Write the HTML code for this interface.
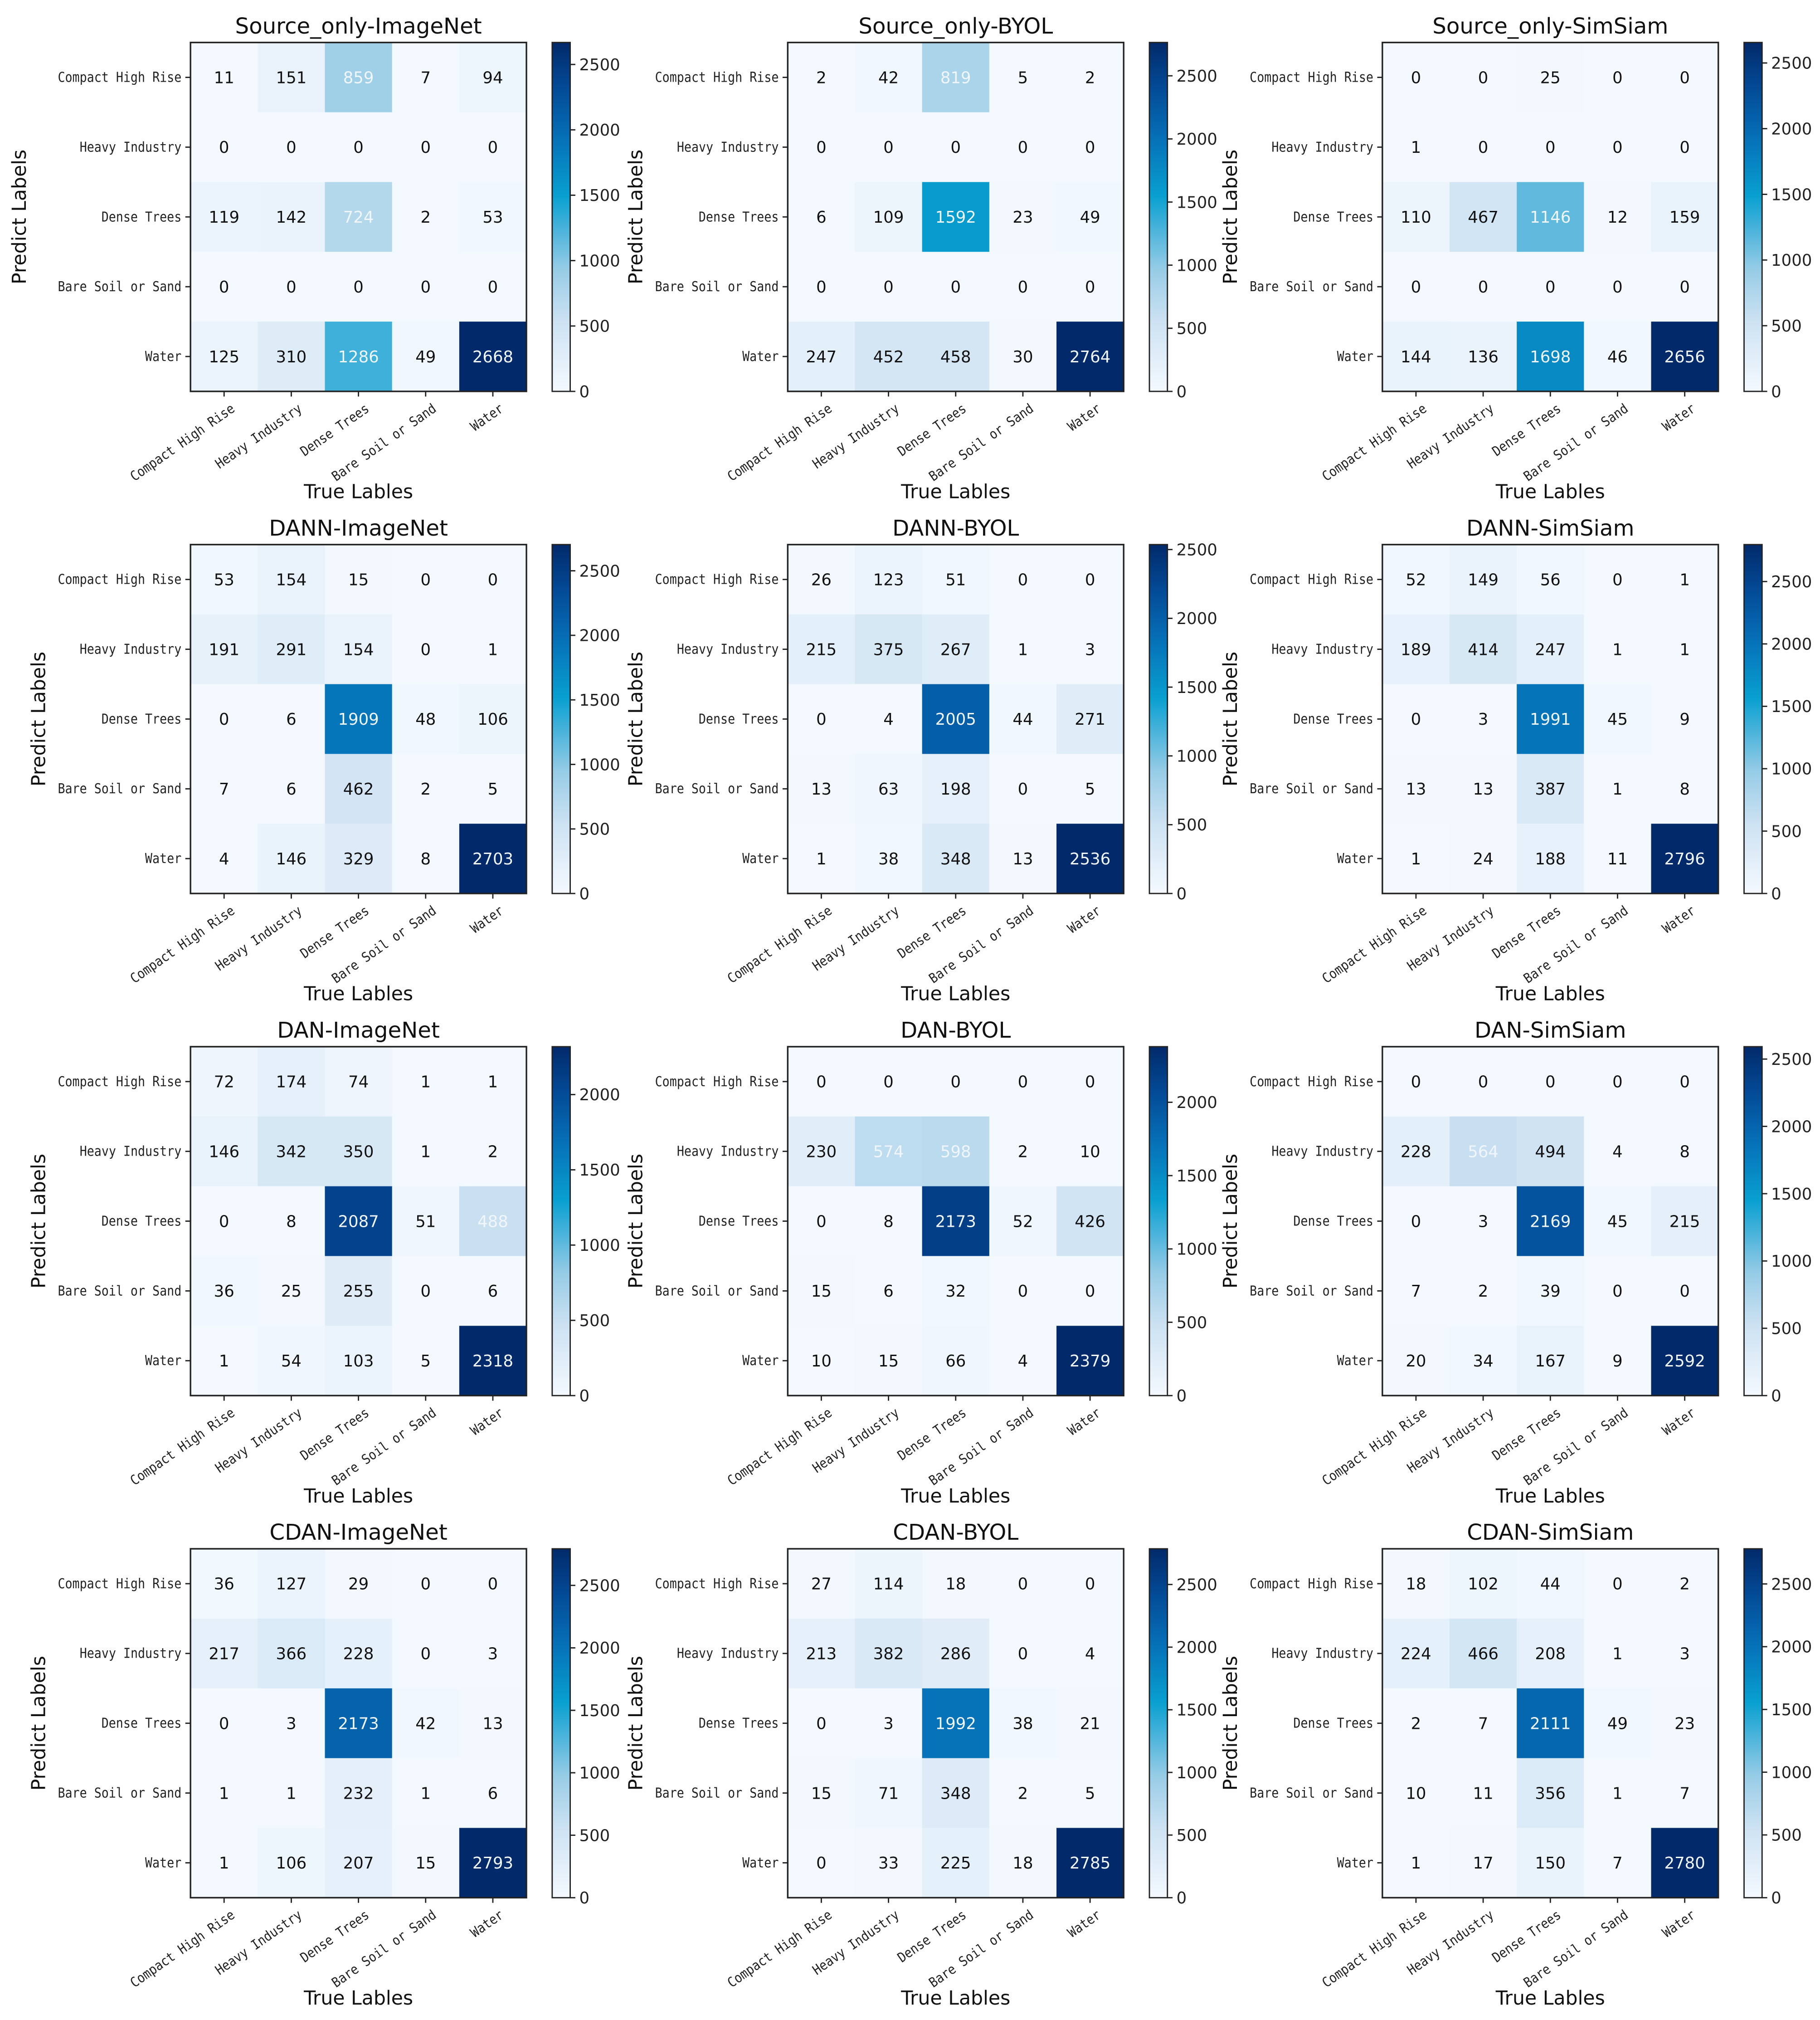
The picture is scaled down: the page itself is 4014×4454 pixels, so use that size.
<!DOCTYPE html>
<html><head><meta charset="utf-8"><style>
html,body{margin:0;padding:0;background:#fff}
svg{display:block}
text{font-family:"DejaVu Sans","Liberation Sans",sans-serif}
.mono{font-family:"DejaVu Sans Mono","Liberation Mono",monospace}
</style></head><body>
<svg id="fig" width="4014" height="4454" viewBox="0 0 1414 1569" xmlns="http://www.w3.org/2000/svg"></svg>
<script>
const classes = ["Compact High Rise","Heavy Industry","Dense Trees","Bare Soil or Sand","Water"];
const titles = ["Source_only-ImageNet","Source_only-BYOL","Source_only-SimSiam","DANN-ImageNet","DANN-BYOL","DANN-SimSiam","DAN-ImageNet","DAN-BYOL","DAN-SimSiam","CDAN-ImageNet","CDAN-BYOL","CDAN-SimSiam"];
const m0 = [[11,151,859,7,94],[0,0,0,0,0],[119,142,724,2,53],[0,0,0,0,0],[125,310,1286,49,2668]];
const m1 = [[2,42,819,5,2],[0,0,0,0,0],[6,109,1592,23,49],[0,0,0,0,0],[247,452,458,30,2764]];
const m2 = [[0,0,25,0,0],[1,0,0,0,0],[110,467,1146,12,159],[0,0,0,0,0],[144,136,1698,46,2656]];
const m3 = [[53,154,15,0,0],[191,291,154,0,1],[0,6,1909,48,106],[7,6,462,2,5],[4,146,329,8,2703]];
const m4 = [[26,123,51,0,0],[215,375,267,1,3],[0,4,2005,44,271],[13,63,198,0,5],[1,38,348,13,2536]];
const m5 = [[52,149,56,0,1],[189,414,247,1,1],[0,3,1991,45,9],[13,13,387,1,8],[1,24,188,11,2796]];
const m6 = [[72,174,74,1,1],[146,342,350,1,2],[0,8,2087,51,488],[36,25,255,0,6],[1,54,103,5,2318]];
const m7 = [[0,0,0,0,0],[230,574,598,2,10],[0,8,2173,52,426],[15,6,32,0,0],[10,15,66,4,2379]];
const m8 = [[0,0,0,0,0],[228,564,494,4,8],[0,3,2169,45,215],[7,2,39,0,0],[20,34,167,9,2592]];
const m9 = [[36,127,29,0,0],[217,366,228,0,3],[0,3,2173,42,13],[1,1,232,1,6],[1,106,207,15,2793]];
const m10 = [[27,114,18,0,0],[213,382,286,0,4],[0,3,1992,38,21],[15,71,348,2,5],[0,33,225,18,2785]];
const m11 = [[18,102,44,0,2],[224,466,208,1,3],[2,7,2111,49,23],[10,11,356,1,7],[1,17,150,7,2780]];
const matrices = [m0,m1,m2,m3,m4,m5,m6,m7,m8,m9,m10,m11];

const NS="http://www.w3.org/2000/svg";
const svg=document.getElementById('fig');
const colLeft=[148,612,1074], rowTop=[33,423,813,1203];
const W=261,H=271;
const stops=[[0,[244,249,255]],[0.2,[205,226,242]],[0.35,[150,204,230]],[0.47,[70,178,218]],[0.56,[8,160,208]],[0.72,[6,114,184]],[0.87,[3,74,150]],[1,[2,42,106]]];
function cmap(t){t=Math.max(0,Math.min(1,t));for(let i=1;i<stops.length;i++){if(t<=stops[i][0]){const a=stops[i-1],b=stops[i];const f=(t-a[0])/(b[0]-a[0]);const c=a[1].map((v,k)=>Math.round(v+(b[1][k]-v)*f));return `rgb(${c[0]},${c[1]},${c[2]})`;}}return 'rgb(2,42,106)';}
function el(tag,attrs,parent){const e=document.createElementNS(NS,tag);for(const k in attrs)e.setAttribute(k,attrs[k]);(parent||svg).appendChild(e);return e;}
const defs=el('defs',{});
const grad=el('linearGradient',{id:'cbg',x1:0,y1:1,x2:0,y2:0},defs);
stops.forEach(s=>el('stop',{offset:s[0],'stop-color':cmap(s[0])},grad));

matrices.forEach((m,idx)=>{
  const r=Math.floor(idx/3),c=idx%3;
  const x0=colLeft[c],y0=rowTop[r];
  const g=el('g',{});
  
  
  const vmax=Math.max(...m.flat());
  const cw=W/5,ch=H/5;
  const xs=i=>x0+i*cw, ys=j=>y0+j*ch;
  const t=el('text',{x:x0+W/2,y:y0-7,'text-anchor':'middle','font-size':17,fill:'#111'},g);t.textContent=titles[idx];
  
  m.forEach((row,j)=>row.forEach((v,i)=>{
    const rc=el('rect',{x:xs(i),y:ys(j),width:cw+0.5,height:ch+0.5,fill:cmap(v/vmax)},g);
    
    const tx=el('text',{x:xs(i)+cw/2,y:ys(j)+ch/2+4.5,'text-anchor':'middle','font-size':12.5,fill:v>vmax*0.2?'#f0f6fb':'#111'},g);
    tx.textContent=v;
    
  }));
  el('rect',{x:x0,y:y0,width:W,height:H,fill:'none',stroke:'#222','stroke-width':1.2},g);
  classes.forEach((name,k)=>{
    const cy=ys(k)+ch/2;
    const len=(name.length*5.65).toFixed(1);
    el('line',{x1:x0-4,x2:x0,y1:cy,y2:cy,stroke:'#222'},g);
    const yl=el('text',{x:x0-7,y:cy+3.5,'text-anchor':'end','font-size':10.5,fill:'#222',class:'mono',textLength:len,lengthAdjust:'spacingAndGlyphs'},g);yl.textContent=name;
    
    const cx=xs(k)+cw/2;
    el('line',{x1:cx,x2:cx,y1:y0+H,y2:y0+H+4,stroke:'#222'},g);
    const xl=el('text',{x:0,y:0,'text-anchor':'end','font-size':10.5,fill:'#222',class:'mono',textLength:len,lengthAdjust:'spacingAndGlyphs',transform:`translate(${cx+9},${y0+H+15}) rotate(-35)`},g);xl.textContent=name;
    
  });
  const xt=el('text',{x:x0+W/2,y:y0+H+83,'text-anchor':'middle','font-size':15,fill:'#111'},g);xt.textContent='True Lables';
  
  const yx=(idx===0)?x0-128:x0-113;
  const yt=el('text',{x:0,y:0,'text-anchor':'middle','font-size':15,fill:'#111',transform:`translate(${yx},${y0+H/2}) rotate(-90)`},g);yt.textContent='Predict Labels';
  
  const cbx=x0+W+20;
  const cb=el('rect',{x:cbx,y:y0,width:14,height:H,fill:'url(#cbg)',stroke:'#222','stroke-width':1},g);
  
  for(let v=0;v<=vmax;v+=500){
    const yy=y0+H-v/vmax*H;
    el('line',{x1:cbx+14,x2:cbx+18,y1:yy,y2:yy,stroke:'#222'},g);
    const ct=el('text',{x:cbx+21,y:yy+4.5,'font-size':12.5,fill:'#222'},g);ct.textContent=v;
    
  }
});
</script>
</body></html>
